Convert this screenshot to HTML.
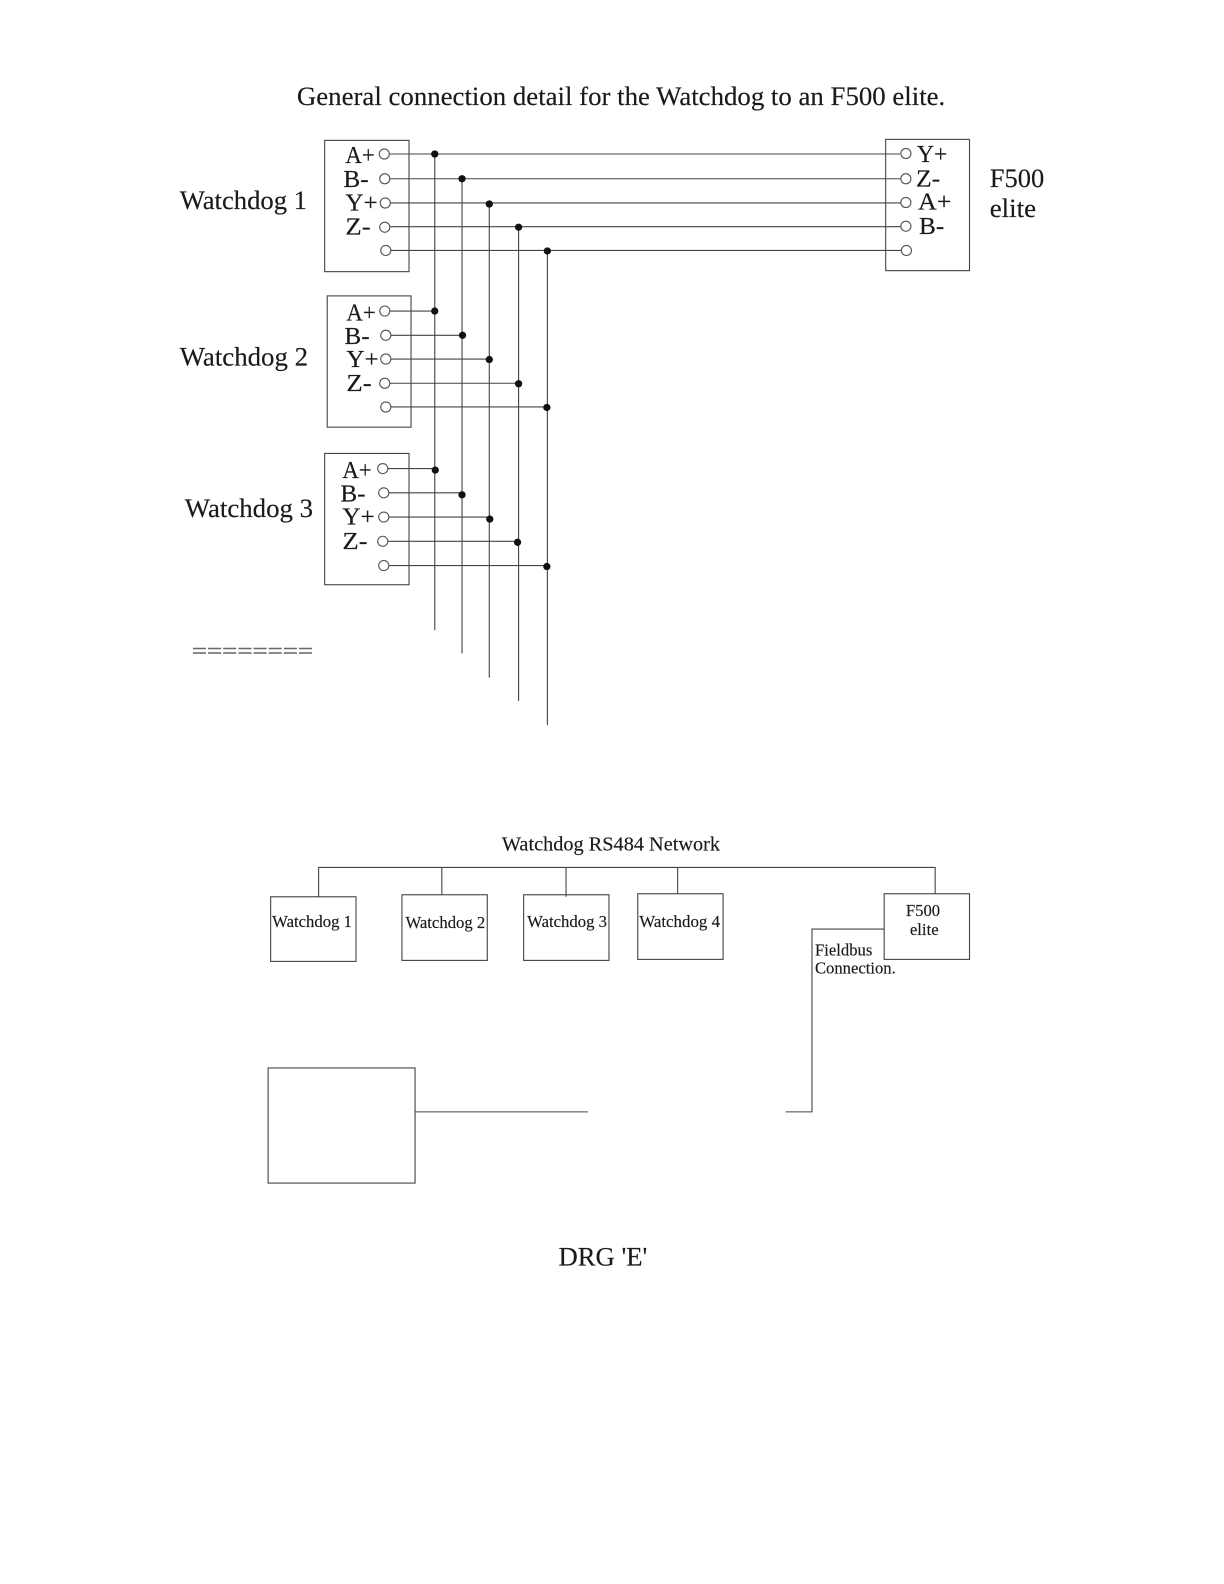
<!DOCTYPE html>
<html>
<head>
<meta charset="utf-8">
<style>
html,body{margin:0;padding:0;background:#fff;}
svg{display:block;filter:blur(0.35px);}
text{font-family:"Liberation Serif",serif;fill:#1a1a1a;stroke:#1a1a1a;stroke-width:0.15px;}
</style>
</head>
<body>
<svg width="1224" height="1584" viewBox="0 0 1212 1568.500" preserveAspectRatio="none" xmlns="http://www.w3.org/2000/svg">
<g fill="none" stroke="#444" stroke-width="1.100">
<!-- boxes -->
<rect x="321.500" y="139" width="83.500" height="130"/>
<rect x="324" y="293" width="83" height="130"/>
<rect x="321.500" y="449" width="83.500" height="130"/>
<rect x="877" y="138" width="83" height="130"/>
<!-- verticals -->
<path d="M430.500 152V624M457.500 177V647M484.500 201V671M513.500 224V694M542 248V718"/>
<!-- WD1 -->
<path d="M386 152.500H891M386 177H892M386 201H892M386 224.500H892M387 248H892"/>
<!-- WD2 -->
<path d="M386 308H430M387 332H458M387 355.500H484M386 379.500H513M387 403H541"/>
<!-- WD3 -->
<path d="M384 464H431M385 488H457M385 512H485M384 536H513M385 560H541"/>
<!-- network -->
<path d="M315.500 888V859H926V885M437.500 859V886M560.500 859V888M671 859V885"/>
<rect x="268" y="888" width="84.500" height="64"/>
<rect x="398" y="886" width="84.500" height="65"/>
<rect x="518.500" y="886" width="84.500" height="65"/>
<rect x="631.500" y="885" width="84.500" height="65"/>
<rect x="875.500" y="885" width="84.500" height="65"/>
<rect x="265.500" y="1057.500" width="145.500" height="114"/>
<path d="M875 920H804V1101H778M411 1101H582"/>
</g>
<!-- terminals -->
<g fill="#fff" stroke="#555" stroke-width="1.100">
<circle cx="380.500" cy="152.500" r="5"/><circle cx="381" cy="177" r="5"/><circle cx="381.500" cy="201" r="5"/><circle cx="381" cy="225" r="5"/><circle cx="382" cy="248" r="5"/>
<circle cx="381" cy="308" r="5"/><circle cx="382" cy="332" r="5"/><circle cx="382" cy="355.500" r="5"/><circle cx="381" cy="379.500" r="5"/><circle cx="382" cy="403" r="5"/>
<circle cx="379" cy="464" r="5"/><circle cx="380" cy="488" r="5"/><circle cx="380" cy="512" r="5"/><circle cx="379" cy="536" r="5"/><circle cx="380" cy="560" r="5"/>
<circle cx="897" cy="152" r="5"/><circle cx="897" cy="177" r="5"/><circle cx="897" cy="200.500" r="5"/><circle cx="897" cy="224" r="5"/><circle cx="897.500" cy="248" r="5"/>
</g>
<!-- junctions -->
<g fill="#111">
<circle cx="430.500" cy="152.500" r="3.600"/><circle cx="457.500" cy="177" r="3.600"/><circle cx="484.500" cy="202" r="3.600"/><circle cx="513.500" cy="225" r="3.600"/><circle cx="542" cy="248.500" r="3.600"/>
<circle cx="430.500" cy="308" r="3.600"/><circle cx="458" cy="332" r="3.600"/><circle cx="484.500" cy="356" r="3.600"/><circle cx="513.500" cy="380" r="3.600"/><circle cx="541.500" cy="403.500" r="3.600"/>
<circle cx="431" cy="465.500" r="3.600"/><circle cx="457.500" cy="490" r="3.600"/><circle cx="485" cy="514" r="3.600"/><circle cx="512.500" cy="537" r="3.600"/><circle cx="541.500" cy="561" r="3.600"/>
</g>
<!-- labels -->
<text x="294" y="104" font-size="26.500" textLength="642" lengthAdjust="spacingAndGlyphs">General connection detail for the Watchdog to an F500 elite.</text>
<g font-size="26.500">
<text x="178" y="207" textLength="126" lengthAdjust="spacingAndGlyphs">Watchdog 1</text>
<text x="178" y="362" textLength="127" lengthAdjust="spacingAndGlyphs">Watchdog 2</text>
<text x="183" y="512" textLength="127" lengthAdjust="spacingAndGlyphs">Watchdog 3</text>
<text x="980" y="185" textLength="54" lengthAdjust="spacingAndGlyphs">F500</text>
<text x="980" y="215" textLength="46" lengthAdjust="spacingAndGlyphs">elite</text>
<text transform="translate(190 651) scale(1 0.8)" x="0" y="0" textLength="120" lengthAdjust="spacingAndGlyphs" style="fill:#666;stroke:#666;stroke-width:0.5px">========</text>
</g>
<g font-size="24.500">
<text x="342" y="161.500" textLength="29" lengthAdjust="spacingAndGlyphs">A+</text>
<text x="340" y="185" textLength="25" lengthAdjust="spacingAndGlyphs">B-</text>
<text x="342" y="208.500" textLength="32" lengthAdjust="spacingAndGlyphs">Y+</text>
<text x="342" y="232" textLength="25" lengthAdjust="spacingAndGlyphs">Z-</text>
<text x="343" y="317.500" textLength="29" lengthAdjust="spacingAndGlyphs">A+</text>
<text x="341" y="340.500" textLength="25" lengthAdjust="spacingAndGlyphs">B-</text>
<text x="343" y="363.500" textLength="32" lengthAdjust="spacingAndGlyphs">Y+</text>
<text x="343" y="387" textLength="25" lengthAdjust="spacingAndGlyphs">Z-</text>
<text x="339" y="473.500" textLength="29" lengthAdjust="spacingAndGlyphs">A+</text>
<text x="337" y="496.500" textLength="25" lengthAdjust="spacingAndGlyphs">B-</text>
<text x="339" y="519.500" textLength="32" lengthAdjust="spacingAndGlyphs">Y+</text>
<text x="339" y="543.500" textLength="25" lengthAdjust="spacingAndGlyphs">Z-</text>
<text x="908" y="160.500" textLength="30" lengthAdjust="spacingAndGlyphs">Y+</text>
<text x="907" y="184.500" textLength="24" lengthAdjust="spacingAndGlyphs">Z-</text>
<text x="909" y="207.500" textLength="33" lengthAdjust="spacingAndGlyphs">A+</text>
<text x="910" y="231.500" textLength="25" lengthAdjust="spacingAndGlyphs">B-</text>
</g>
<text x="497" y="842" font-size="20" textLength="216" lengthAdjust="spacingAndGlyphs">Watchdog RS484 Network</text>
<g font-size="16.500">
<text x="269.500" y="918" textLength="79" lengthAdjust="spacingAndGlyphs">Watchdog 1</text>
<text x="401.500" y="919" textLength="79" lengthAdjust="spacingAndGlyphs">Watchdog 2</text>
<text x="522" y="918" textLength="79" lengthAdjust="spacingAndGlyphs">Watchdog 3</text>
<text x="633" y="918" textLength="80" lengthAdjust="spacingAndGlyphs">Watchdog 4</text>
<text x="897" y="907">F500</text>
<text x="901" y="926">elite</text>
<text x="807" y="946">Fieldbus</text>
<text x="807" y="964" textLength="80" lengthAdjust="spacingAndGlyphs">Connection.</text>
</g>
<text x="553" y="1253" font-size="26.500" textLength="88" lengthAdjust="spacingAndGlyphs">DRG 'E'</text>
</svg>
</body>
</html>
